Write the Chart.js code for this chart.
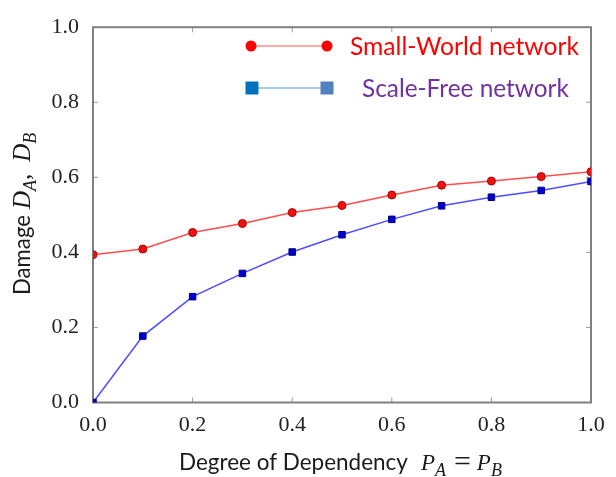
<!DOCTYPE html>
<html>
<head>
<meta charset="utf-8">
<script src="https://cdn.jsdelivr.net/npm/chart.js@4"></script>
<style>
  html, body { margin: 0; padding: 0; background: #fff; }
  #wrap { width: 616px; height: 477px; }
</style>
</head>
<body>
<div id="wrap"><canvas id="grafico"></canvas></div>
<script>
// data
const dependency = [0.0, 0.1, 0.2, 0.3, 0.4, 0.5, 0.6, 0.7, 0.8, 0.9, 1.0];
const smallWorld = [0.394, 0.409, 0.453, 0.477, 0.506, 0.525, 0.553, 0.579, 0.590, 0.602, 0.615];
const scaleFree  = [0.000, 0.177, 0.282, 0.344, 0.401, 0.447, 0.488, 0.524, 0.547, 0.565, 0.589];
const axisTicks  = [0.0, 0.2, 0.4, 0.6, 0.8, 1.0];
const seriesNames = ['Small-World network', 'Scale-Free network'];

const toPoints = (ys) => ys.map((y, i) => ({ x: dependency[i], y: y }));

// pick a font size so that text fills a given width
function fitFont(ctx, text, family, width, style) {
    style = style || '';
    ctx.font = style + ' 40px ' + family;
    const size = 40 * width / ctx.measureText(text).width;
    return style + ' ' + size.toFixed(2) + 'px ' + family;
}

// draws a row of text pieces; {gap} entries just move the pen
function drawParts(ctx, parts, x, baseline) {
    let cx = x;
    parts.forEach(p => {
        if (p.gap) { cx += p.gap; return; }
        ctx.font = p.font;
        ctx.fillText(p.text, cx, baseline + (p.dy || 0));
        cx += ctx.measureText(p.text).width;
    });
}

const sans = '"Lato", "Open Sans", sans-serif';
const math = '"Liberation Serif", serif';

const framePlugin = {
    id: 'frame',
    beforeDatasetsDraw(chart) {
        const { ctx, chartArea: a, scales } = chart;
        ctx.save();
        ctx.strokeStyle = '#9a9a9a';
        ctx.lineWidth = 1;
        axisTicks.slice(1, -1).forEach(v => {
            const px = scales.x.getPixelForValue(v);
            const py = scales.y.getPixelForValue(v);
            ctx.beginPath();
            ctx.moveTo(px, a.bottom); ctx.lineTo(px, a.bottom - 5);
            ctx.moveTo(px, a.top); ctx.lineTo(px, a.top + 5);
            ctx.moveTo(a.left, py); ctx.lineTo(a.left + 5, py);
            ctx.moveTo(a.right, py); ctx.lineTo(a.right - 5, py);
            ctx.stroke();
        });
        ctx.strokeStyle = '#808080';
        ctx.lineWidth = 2;
        ctx.strokeRect(a.left, a.top, a.right - a.left, a.bottom - a.top);
        ctx.restore();
    },
    afterDraw(chart) {
        const ctx = chart.ctx;
        ctx.save();
        ctx.fillStyle = '#1a1a1a';
        ctx.textBaseline = 'alphabetic';

        // x title
        drawParts(ctx, [
            { text: 'Degree of Dependency', font: fitFont(ctx, 'Degree of Dependency', sans, 229) },
            { gap: 13 },
            { text: 'P', font: 'italic 23px ' + math },
            { text: 'A', font: 'italic 18px ' + math, dy: 6 },
            { gap: 8 },
            { text: '=', font: '30px ' + math, dy: 1 },
            { gap: 6 },
            { text: 'P', font: 'italic 23px ' + math },
            { text: 'B', font: 'italic 18px ' + math, dy: 6 }
        ], 179, 470);

        // y title, written bottom to top
        ctx.translate(30, 295);
        ctx.rotate(-Math.PI / 2);
        drawParts(ctx, [
            { text: 'Damage', font: fitFont(ctx, 'Damage', sans, 80) },
            { gap: 6 },
            { text: 'D', font: 'italic 25px ' + math },
            { text: 'A', font: 'italic 18px ' + math, dy: 6 },
            { text: ',', font: '25px ' + math },
            { gap: 12 },
            { text: 'D', font: 'italic 25px ' + math },
            { text: 'B', font: 'italic 18px ' + math, dy: 6 }
        ], 0, 0);
        ctx.restore();

        // legend
        ctx.save();
        ctx.strokeStyle = '#ff8f8f';
        ctx.lineWidth = 1.5;
        ctx.beginPath(); ctx.moveTo(251, 46); ctx.lineTo(327, 46); ctx.stroke();
        ctx.fillStyle = '#ff0000';
        [251, 327].forEach(x => { ctx.beginPath(); ctx.arc(x, 46, 5.5, 0, Math.PI * 2); ctx.fill(); });
        ctx.font = fitFont(ctx, seriesNames[0], sans, 229);
        ctx.fillText(seriesNames[0], 350, 55);

        ctx.strokeStyle = '#a8cbea';
        ctx.lineWidth = 2;
        ctx.beginPath(); ctx.moveTo(252, 88); ctx.lineTo(327, 88); ctx.stroke();
        ctx.fillStyle = '#0070c0';
        ctx.fillRect(245.5, 81.5, 13, 13);
        ctx.fillStyle = '#4f81bd';
        ctx.fillRect(320.5, 81.5, 13, 13);
        ctx.fillStyle = '#7030a0';
        ctx.font = fitFont(ctx, seriesNames[1], sans, 207);
        ctx.fillText(seriesNames[1], 362, 96.5);
        ctx.restore();
    }
};

const tickFont = { family: '"Liberation Serif", serif', size: 22 };

new Chart(document.getElementById('grafico').getContext('2d'), {
    type: 'line',
    data: {
        datasets: [{
            label: seriesNames[0],
            data: toPoints(smallWorld),
            borderColor: '#ff4d4d',
            borderWidth: 1.5,
            pointStyle: 'circle',
            pointRadius: 4,
            pointBackgroundColor: '#ee1111',
            pointBorderColor: '#b00000',
            pointBorderWidth: 1,
            tension: 0
        }, {
            label: seriesNames[1],
            data: toPoints(scaleFree),
            borderColor: '#4d4dff',
            borderWidth: 1.5,
            pointStyle: 'rect',
            pointRadius: 4.6,
            pointBackgroundColor: '#0000d0',
            pointBorderColor: '#000080',
            pointBorderWidth: 1,
            tension: 0
        }]
    },
    options: {
        responsive: true,
        maintainAspectRatio: false,
        animation: false,
        events: [],
        layout: { padding: { top: 16, right: 25, left: 0, bottom: 0 } },
        plugins: {
            legend: { display: false },
            tooltip: { enabled: false }
        },
        scales: {
            x: {
                type: 'linear',
                min: 0, max: 1,
                grid: { display: false, drawTicks: false },
                border: { display: false },
                afterBuildTicks: (s) => { s.ticks = axisTicks.map(v => ({ value: v })); },
                afterFit: (s) => { s.height = 74.5; },
                ticks: {
                    padding: 10,
                    color: '#222',
                    font: tickFont,
                    maxRotation: 0,
                    callback: (v) => Number(v).toFixed(1)
                }
            },
            y: {
                min: 0, max: 1,
                grid: { display: false, drawTicks: false },
                border: { display: false },
                afterBuildTicks: (s) => { s.ticks = axisTicks.map(v => ({ value: v })); },
                afterFit: (s) => { s.width = 93; },
                ticks: {
                    padding: 14,
                    color: '#222',
                    font: tickFont,
                    callback: (v) => Number(v).toFixed(1)
                }
            }
        }
    },
    plugins: [framePlugin]
});
</script>
</body>
</html>
